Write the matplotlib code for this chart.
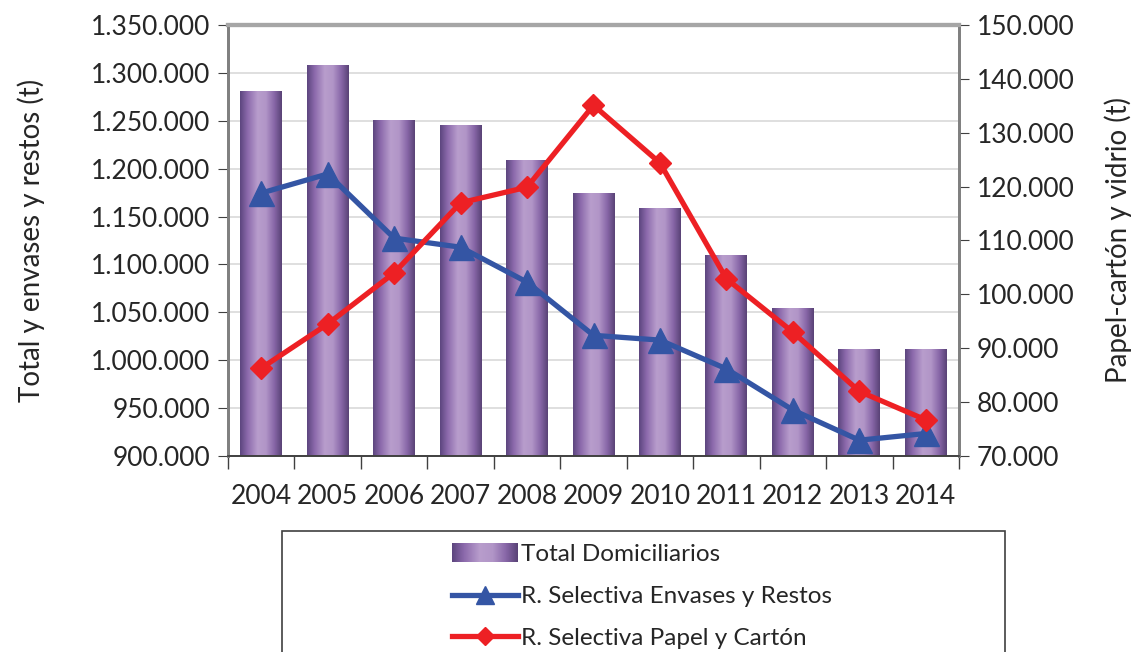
import numpy as np
import matplotlib
matplotlib.use("Agg")
import matplotlib.pyplot as plt
from matplotlib.colors import LinearSegmentedColormap
from matplotlib.lines import Line2D
from matplotlib.patches import Rectangle
from matplotlib.ticker import FuncFormatter
from matplotlib.legend_handler import HandlerBase
from matplotlib.image import BboxImage
from matplotlib.transforms import Bbox, TransformedBbox

plt.rcParams['font.family'] = ['Lato', 'DejaVu Sans']

# data
years = ['2004', '2005', '2006', '2007', '2008', '2009', '2010', '2011', '2012', '2013', '2014']
total_domiciliarios = [1281000, 1308000, 1250000, 1245500, 1209000, 1174500, 1158000, 1109000, 1054500, 1011500, 1011500]
envases_restos = [1174500, 1194500, 1127500, 1118000, 1081500, 1026000, 1021000, 991000, 948000, 916500, 923500]
papel_carton = [86300, 94500, 104000, 117000, 119900, 135100, 124400, 102900, 93000, 82000, 76700]

fig = plt.figure(figsize=(11.31, 6.52), dpi=100)
ax = fig.add_axes([228 / 1131, 1 - 456 / 652, (959 - 228) / 1131, (456 - 25) / 652])
ax2 = ax.twinx()

x = np.arange(len(years))
grad = LinearSegmentedColormap.from_list('purp', [
    (0.0, '#5d467f'), (0.18, '#8c6aac'), (0.42, '#b89dcc'),
    (0.62, '#b195c7'), (0.82, '#8867a8'), (1.0, '#5a4377')])
gimg = np.linspace(0, 1, 100).reshape(1, -1)

bars = ax.bar(x, total_domiciliarios, width=0.63, color='none', zorder=2)
for b in bars:
    x0, w, h = b.get_x(), b.get_width(), b.get_height()
    im = ax.imshow(gimg, cmap=grad, aspect='auto', extent=(x0, x0 + w, 0, h), zorder=2)
    im.set_clip_path(b)
    im.set_clip_box(ax.bbox)

ax.plot(x, envases_restos, color='#3455a4', lw=3.8, marker='^', ms=18, zorder=4)
ax2.plot(x, papel_carton, color='#ed2024', lw=3.8, marker='D', ms=11.5, zorder=4)

ax.set_xlim(-0.5, len(years) - 0.5)
ax.set_ylim(900000, 1350000)
ax2.set_ylim(70000, 150000)
ax.set_yticks(np.arange(900000, 1350001, 50000))
ax2.set_yticks(np.arange(70000, 150001, 10000))

fmt = FuncFormatter(lambda v, p: f'{int(v):,}'.replace(',', '.'))
ax.yaxis.set_major_formatter(fmt)
ax2.yaxis.set_major_formatter(fmt)

ax.set_xticks(np.arange(-0.5, len(years)), [''] * (len(years) + 1))
ax.set_xticks(x, years, minor=True)
ax.tick_params(axis='x', which='major', length=9, color='#404040', width=1)
ax.tick_params(axis='x', which='minor', length=0, pad=20, labelsize=19, labelcolor='#262626')
ax.tick_params(axis='y', length=7, color='#404040', labelsize=19, labelcolor='#262626', pad=6)
ax2.tick_params(axis='y', length=7, color='#404040', labelsize=19, labelcolor='#262626', pad=6)

ax.yaxis.grid(True, color='#d9d9d9', lw=1.2)
ax.set_axisbelow(True)
ax.set_zorder(1)
ax.patch.set_visible(False)
ax2.set_zorder(2)

for a in (ax, ax2):
    a.spines['left'].set_color('#808080')
    a.spines['left'].set_linewidth(2)
    a.spines['right'].set_color('#808080')
    a.spines['right'].set_linewidth(2)
    a.spines['top'].set_color('#a6a6a6')
    a.spines['top'].set_linewidth(3)
    a.spines['bottom'].set_color('#404040')
    a.spines['bottom'].set_linewidth(1.2)

ax.set_ylabel('Total y envases y restos (t)', fontsize=20, color='#262626', labelpad=33)
ax2.set_ylabel('Papel-cartón y vidrio (t)', fontsize=20, color='#262626', labelpad=21)

# legend box (cut by the bottom edge)
fig.patches.append(Rectangle((282 / 1131, -0.05), (1005 - 282) / 1131, 0.05 + 1 - 531 / 652,
                             transform=fig.transFigure, fill=False, ec='#404040', lw=1.2))


class GradHandle:
    pass


class HandlerGrad(HandlerBase):
    def create_artists(self, legend, orig, xd, yd, width, height, fontsize, trans):
        bb = Bbox.from_bounds(xd, yd - height * 0.05, width, height * 1.1)
        img = BboxImage(TransformedBbox(bb, trans), cmap=grad, interpolation='bilinear')
        img.set_data(gimg)
        return [img]


handles = [GradHandle(),
           Line2D([], [], color='#3455a4', lw=3.8, marker='^', ms=13),
           Line2D([], [], color='#ed2024', lw=3.8, marker='D', ms=9)]
labels = ['Total Domiciliarios', 'R. Selectiva Envases y Restos', 'R. Selectiva Papel y Cartón']
fig.legend(handles, labels, handler_map={GradHandle: HandlerGrad()},
           loc='upper left', bbox_to_anchor=(440 / 1131, 1 - 532 / 652),
           frameon=False, fontsize=17.5, handlelength=2.7, handletextpad=0.15,
           borderpad=0, labelspacing=0.86, labelcolor='#262626')

fig.savefig('out.png', dpi=100)
